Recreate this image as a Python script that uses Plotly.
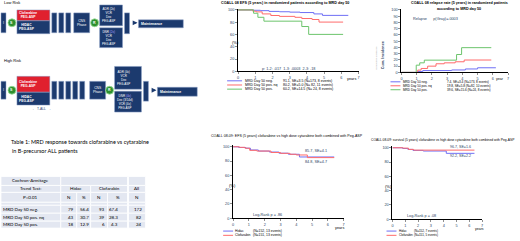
import plotly.graph_objects as go

W, H = 520, 241
def fx(x): return x / W
def fy(y): return 1 - y / H

# ---------------- data ----------------
# Panel 1: EFS by MRD day 50
p1_t_neg = [0, 0.9, 1.3, 1.8, 2.4, 3.0, 3.6, 4.4, 4.9, 6.4]
p1_v_neg = [100, 99.4, 98.8, 97.6, 97.0, 96.4, 95.7, 93.5, 91.1, 91.1]
p1_t_nq = [0, 0.85, 1.05, 1.4, 1.9, 2.4, 3.3, 3.7, 4.3, 4.7, 6.1]
p1_v_nq = [100, 98, 96.8, 93.5, 90.9, 89.5, 88, 86, 84.4, 80.2, 80.2]
p1_t_pos = [0, 0.9, 1.15, 1.5, 3.7, 4.1, 6.1]
p1_v_pos = [100, 94.6, 88, 81.7, 73, 60.2, 60.2]
p1_labels = ["MRD Day 50 neg.", "MRD Day 50 pos. nq", "MRD Day 50 pos."]
p1_stats = ["91.1, SE=3.5 (N=173, 8 events)", "80.2, SE=5.0 (N= 82, 11 events)",
            "60.2, SE=14.5 (N= 24, 8 events)"]

# Panel 2: relapse cumulative incidence
p2_t_neg = [0, 1.07, 1.4, 3.3, 4.2, 5.0, 6.2]
p2_v_neg = [0, 1.5, 2.9, 3.9, 5.5, 7.4, 7.4]
p2_t_nq = [0, 1.07, 1.29, 1.72, 2.27, 2.81, 3.53, 4.12, 5.9]
p2_v_nq = [0, 3.7, 6.3, 10, 13.8, 15.3, 17, 19.8, 19.8]
p2_t_pos = [0, 0.97, 1.2, 1.5, 3.62, 3.95, 5.9]
p2_v_pos = [0, 11.6, 15.3, 19.6, 28.6, 39.6, 39.6]
p2_stats = ["7.4, SE=3.4 (N=173, 8 events)", "19.8, SE=5.8 (N=82, 10 events)",
            "39.6, SE=15.6 (N=24, 8 events)"]

# Panel 3: EFS clofarabine vs HIDAC
p3_t_hid = [0, 0.35, 0.8, 1.1, 1.6, 2.3, 2.9, 3.5, 4.2, 6.4]
p3_v_hid = [100, 99, 98, 95.5, 94, 92.6, 91, 89.5, 85.7, 85.7]
p3_t_clo = [0, 0.4, 0.75, 1.05, 1.5, 2.4, 3.0, 3.6, 4.0, 4.7, 6.4]
p3_v_clo = [100, 99.2, 98, 95, 94, 92, 90.8, 89.5, 88.5, 84.8, 84.8]
p3_arms = ["Hidac", "Clofarabin"]
p3_stats = ["(N=152, 13 events)", "(N=151, 13 events)"]

# Panel 4: survival clofarabine vs HIDAC
p4_t_hid = [0, 0.8, 1.2, 1.6, 2.4, 4.2, 6.4]
p4_v_hid = [100, 99, 97.7, 96.3, 95.4, 92.2, 92.2]
p4_t_clo = [0, 0.8, 1.25, 1.65, 6.4]
p4_v_clo = [100, 99.5, 97.7, 96.7, 96.7]
p4_stats = ["(N=152, 7 events)", "(N=151, 5 events)"]

year_ticks = [0, 1, 2, 3, 4, 5, 6, 7]
pct_ticks20 = [0, 20, 40, 60, 80, 100]
pct_ticks10 = [0, 10, 20, 30, 40, 50, 60, 70, 80, 90, 100]

# Table
tbl_rows = ["MRD Day 50 neg.", "MRD Day 50 pos. nq", "MRD Day 50 pos."]
tbl_hidac_n = [79, 43, 18]
tbl_hidac_pct = [56.4, 30.7, 12.9]
tbl_clof_n = [93, 39, 6]
tbl_clof_pct = [67.4, 28.3, 4.3]
tbl_all_n = [172, 82, 24]

BLUE = "#6f6ff5"
RED = "#ff6b6b"
GREEN = "#6cc46c"
NAVY = "#1c3a6e"
CRIMSON = "#e0202e"
FGREEN = "#2f8f2f"
FONT = "Liberation Sans, Arial, sans-serif"
TFONT = "Lato, Open Sans, sans-serif"

fig = go.Figure()
shapes = []
ann = []

def txt(x, y, s, size=4, color="black", xa="left", ya="middle", font=FONT, **kw):
    ann.append(dict(x=fx(x), y=fy(y), xref="paper", yref="paper", text=s, showarrow=False,
                    xanchor=xa, yanchor=ya, font=dict(size=size, color=color, family=font),
                    borderpad=0, **kw))

# ---------------- KM panels ----------------
panels = {
    1: dict(px=(238, 359), py=(10, 72), yt=pct_ticks20),
    2: dict(px=(402, 509), py=(10, 73), yt=pct_ticks10),
    3: dict(px=(233, 344), py=(148, 220), yt=pct_ticks20),
    4: dict(px=(393, 483), py=(149, 221), yt=pct_ticks20),
}
layout_axes = {}
for n, p in panels.items():
    sx = "" if n == 1 else str(n)
    x0, x1 = p["px"]
    yt, yb = p["py"]
    ext = (yb - yt) * 0.02
    layout_axes["xaxis" + sx] = dict(domain=[fx(x0), fx(x1)], range=[0, 7], anchor="y" + sx,
                                     tickvals=year_ticks, showline=True, linecolor="black",
                                     linewidth=1, ticks="outside", ticklen=2, tickwidth=0.6,
                                     tickfont=dict(size=3.8, family=FONT), showgrid=False,
                                     zeroline=False, fixedrange=True)
    layout_axes["yaxis" + sx] = dict(domain=[fy(yb), fy(yt - ext)], range=[0, 102], anchor="x" + sx,
                                     tickvals=p["yt"], showline=True, linecolor="black",
                                     linewidth=1, ticks="outside", ticklen=2, tickwidth=0.6,
                                     tickfont=dict(size=3.8, family=FONT), showgrid=False,
                                     zeroline=False, fixedrange=True)

def km(t, v, color, n):
    sx = "" if n == 1 else str(n)
    fig.add_trace(go.Scatter(x=t, y=v, mode="lines", line=dict(shape="hv", color=color, width=1),
                             xaxis="x" + sx, yaxis="y" + sx, hoverinfo="skip", showlegend=False))

km(p1_t_neg, p1_v_neg, BLUE, 1)
km(p1_t_nq, p1_v_nq, RED, 1)
km(p1_t_pos, p1_v_pos, GREEN, 1)
km(p2_t_neg, p2_v_neg, BLUE, 2)
km(p2_t_nq, p2_v_nq, RED, 2)
km(p2_t_pos, p2_v_pos, GREEN, 2)
km(p3_t_hid, p3_v_hid, BLUE, 3)
km(p3_t_clo, p3_v_clo, RED, 3)
km(p4_t_hid, p4_v_hid, BLUE, 4)
km(p4_t_clo, p4_v_clo, RED, 4)

def dann(n, x, y, s, size=4, xa="center"):
    sx = "" if n == 1 else str(n)
    ann.append(dict(x=x, y=y, xref="x" + sx, yref="y" + sx, text=s, showarrow=False,
                    xanchor=xa, yanchor="middle", font=dict(size=size, family=FONT)))

# Panel 1 texts
txt(220, 3, "<b>COALL 08 EFS (5 years) in randomized patients according to MRD day 50</b>", size=3.7)
txt(231, 43, "(%)", size=4)
txt(346, 79.5, "years", size=3.8)
dann(1, 2.9, 4, "p: 1-2: .017  1-3: .0003  2-3: .18", size=3.8)
for i, (c, lab, st) in enumerate(zip([BLUE, RED, GREEN], p1_labels, p1_stats)):
    yy = 81.5 + 4.2 * i
    shapes.append(dict(type="line", xref="paper", yref="paper", x0=fx(227), x1=fx(242),
                       y0=fy(yy), y1=fy(yy), line=dict(color=c, width=1)))
    txt(244, yy, lab, size=3.5)
    txt(282, yy, st, size=3.5)

# Panel 2 texts
txt(460, 3, "<b>COALL 08 relapse rate (5 years) in randomized patients</b>", size=3.7, xa="center")
txt(460, 9, "<b>according to MRD day 50</b>", size=3.7, xa="center")
dann(2, 0.6, 86, "Relapse      p(Gray)=.0003", size=3.8, xa="left")
ann.append(dict(x=fx(387), y=fy(40), xref="paper", yref="paper", text="<b>Cum. Incidence</b>",
                showarrow=False, textangle=-90, font=dict(size=3.8, family=FONT)))
ann.append(dict(x=fx(381), y=fy(44), xref="paper", yref="paper", text="cumulative incidence",
                showarrow=False, textangle=-90, font=dict(size=2.5, family=FONT, color="#aaaaaa")))
txt(496, 80, "year", size=3.6)
for i, (c, lab, st) in enumerate(zip([BLUE, RED, GREEN], p1_labels, p2_stats)):
    yy = 82.5 + 4.0 * i
    shapes.append(dict(type="line", xref="paper", yref="paper", x0=fx(391), x1=fx(401),
                       y0=fy(yy), y1=fy(yy), line=dict(color=c, width=1)))
    txt(403, yy, lab, size=3.1)
    txt(447, yy, st, size=3.1)

# Panel 3 texts
txt(210, 137, "COALL 08-09: EFS (5 years) clofarabine vs high dose cytarabine both combined with Peg-ASP", size=3.6)
txt(228, 187, "(%)", size=4)
txt(334, 230, "years", size=3.8)
dann(3, 2.2, 4, "Log-Rank p = .86", size=3.8)
dann(3, 4.4, 94, "85.7, SE=4.1", size=3.8, xa="left")
dann(3, 4.4, 79, "84.8, SE=4.7", size=3.8, xa="left")
for i, (c, lab, st) in enumerate(zip([BLUE, RED], p3_arms, p3_stats)):
    yy = 233 + 4.3 * i
    shapes.append(dict(type="line", xref="paper", yref="paper", x0=fx(223), x1=fx(233),
                       y0=fy(yy), y1=fy(yy), line=dict(color=c, width=1)))
    txt(234, yy, lab, size=3.4)
    txt(252, yy, st, size=3.4)

# Panel 4 texts
txt(370, 141, "COALL 08-09: survival (5 years) clofarabine vs high dose cytarabine both combined with Peg-ASP", size=3.3)
txt(384, 188, "(%)", size=4)
txt(475, 231, "years", size=3.5)
dann(4, 2.3, 5, "Log-Rank p = .08", size=3.8)
dann(4, 4.35, 101, "96.7, SE=1.6", size=3.6, xa="left")
dann(4, 4.35, 88, "92.2, SE=2.2", size=3.6, xa="left")
for i, (c, lab, st) in enumerate(zip([BLUE, RED], p3_arms, p4_stats)):
    yy = 233 + 4.3 * i
    shapes.append(dict(type="line", xref="paper", yref="paper", x0=fx(387), x1=fx(397),
                       y0=fy(yy), y1=fy(yy), line=dict(color=c, width=1)))
    txt(399, yy, lab, size=3.0)
    txt(414, yy, st, size=3.0)

# ---------------- Table ----------------
txt(9, 143, "Table 1: MRD response towards clofarabine vs cytarabine", size=5.5, font=TFONT)
txt(10, 152, "in B-precursor ALL patients", size=5.5, font=TFONT)

CELL = "#e3e7f1"
def cell(x0, x1, y0, y1):
    shapes.append(dict(type="rect", xref="paper", yref="paper", x0=fx(x0), x1=fx(x1),
                       y0=fy(y1), y1=fy(y0), fillcolor=CELL, line=dict(color="white", width=0.8),
                       layer="below"))
cell(0, 60, 178, 187); cell(60, 127, 178, 187); cell(128, 145, 178, 187)
cell(0, 60, 187, 194); cell(60, 90, 187, 194); cell(90, 127, 187, 194); cell(128, 145, 187, 194)
row3 = [(0, 60), (60, 76), (76, 90), (90, 107), (107, 127), (128, 145)]
for a, b in row3:
    cell(a, b, 194, 204)
    cell(a, b, 204, 207)
data_y = [(207, 215), (215, 223), (223, 230)]
for a, b in row3:
    for y0, y1 in data_y:
        cell(a, b, y0, y1)
txt(30, 182.5, "Cochran-Armitage", size=4.5, xa="center", font=TFONT)
txt(30, 190.5, "Trend Test:", size=4.5, xa="center", font=TFONT)
txt(30, 199, "P=0.01", size=4.5, xa="center", font=TFONT)
txt(75, 190.5, "Hidac", size=4.5, xa="center", font=TFONT)
txt(108.5, 190.5, "Clofarabin", size=4.5, xa="center", font=TFONT)
txt(136.5, 190.5, "All", size=4.5, xa="center", font=TFONT)
for (a, b), h in zip(row3[1:], ["N", "%", "N", "%", "N"]):
    txt((a + b) / 2, 199.5, h, size=4.5, xa="center", font=TFONT)
for i, (y0, y1) in enumerate(data_y):
    yy = (y0 + y1) / 2
    txt(1, yy, tbl_rows[i], size=4.5, font=TFONT)
    txt(74, yy, str(tbl_hidac_n[i]), size=4.5, xa="right", font=TFONT)
    txt(89, yy, f"{tbl_hidac_pct[i]:.1f}", size=4.5, xa="right", font=TFONT)
    txt(105, yy, str(tbl_clof_n[i]), size=4.5, xa="right", font=TFONT)
    txt(118, yy, f"{tbl_clof_pct[i]:.1f}", size=4.5, xa="right", font=TFONT)
    txt(143, yy, str(tbl_all_n[i]), size=4.5, xa="right", font=TFONT)

# ---------------- Flow diagram ----------------
def box(x0, x1, y0, y1, fill=NAVY, text="", size=3.5, align="center", bold=False):
    shapes.append(dict(type="rect", xref="paper", yref="paper", x0=fx(x0), x1=fx(x1),
                       y0=fy(y1), y1=fy(y0), fillcolor=fill, line=dict(color="#8fa3c8", width=0.5)))
    if text:
        s = f"<b>{text}</b>" if bold else text
        if align == "left":
            txt(x0 + 1.5, (y0 + y1) / 2, s, size=size, color="white", xa="left")
        else:
            txt((x0 + x1) / 2, (y0 + y1) / 2, s, size=size, color="white", xa="center")

def circ(cx, cy, r, label):
    shapes.append(dict(type="circle", xref="paper", yref="paper", x0=fx(cx - r), x1=fx(cx + r),
                       y0=fy(cy + r), y1=fy(cy - r), fillcolor=FGREEN,
                       line=dict(color="#9adf9a", width=0.8)))
    txt(cx, cy, f"<b>{label}</b>", size=3.5, color="white", xa="center")

def arrow(x0, x1, y):
    ann.append(dict(x=fx(x1), y=fy(y), ax=x0 - x1, ay=0, xref="paper", yref="paper",
                    showarrow=True, text="", arrowhead=2, arrowsize=0.6, arrowwidth=1.6,
                    arrowcolor=NAVY))

txt(2, 3, "Low Risk", size=4)
box(0, 5, 13, 33, text="I", size=3.5)
circ(11, 23, 4, "S")
box(16, 49, 10, 21, fill=CRIMSON, text="Clofarabine<br>PEG-ASP", size=3.3, align="left", bold=True)
box(16, 49, 21, 34, text="HIDAC<br>PEG-ASP", size=3.3, align="left", bold=True)
for a in [51, 58, 65]:
    box(a, a + 5, 13, 33)
box(73, 89, 13, 33, text="CNS<br>Phase", size=3.3)
circ(94, 23, 4, "R")
box(99, 122, 5, 26, text="ADR (2x)<br>VCR<br>Dex<br>PEG-ASP", size=3, align="left")
box(99, 122, 28, 48, text="DNR <span style='color:#b0a0ff'>(2x)</span><br>VCR<br>Dex<br>PEG-ASP", size=3, align="left")
box(124, 129, 13, 34)
arrow(131, 137, 23)
box(138, 183, 20, 28, text="Maintenance", size=3.5, align="left", bold=True)

txt(2, 61, "High Risk", size=4)
box(0, 5, 82, 100, text="I", size=3.5)
circ(11, 91, 4, "S")
box(16, 49, 77, 93, fill=CRIMSON, text="Clofarabine<br>PEG-ASP", size=3.3, align="left", bold=True)
box(16, 49, 93, 106, text="HIDAC<br>PEG-ASP", size=3.3, align="left", bold=True)
for a in [51, 58, 65, 72, 79]:
    box(a, a + 5, 82, 100)
box(89, 105, 82, 100, text="CNS<br>Phase", size=3.3)
circ(109, 91, 4, "R")
box(114, 141, 67, 90, text="ADR (4x)<br>VCR<br>Dex<br>PEG-ASP", size=3, align="left")
box(114, 141, 92, 113, text="DNR <span style='color:#b0a0ff'>(4x)</span><br>Dex (3/14d)<br>VCR (4x)<br>PEG-ASP", size=3, align="left")
box(143, 148, 82, 102)
arrow(150, 156, 91)
box(157, 197, 88, 97, text="Maintenance", size=3.5, align="left", bold=True)
txt(41, 110, "\u2190  T-ALL  \u2192", size=3.3, xa="center", color=NAVY)

fig.update_layout(width=W, height=H, margin=dict(l=0, r=0, t=0, b=0), autosize=False,
                  paper_bgcolor="white", plot_bgcolor="white", showlegend=False,
                  shapes=shapes, annotations=ann, font=dict(family=FONT), **layout_axes)
fig.write_html("out.html", config={"displayModeBar": False, "staticPlot": True},
               post_script="document.body.style.margin='0';document.body.style.overflow='hidden';")
